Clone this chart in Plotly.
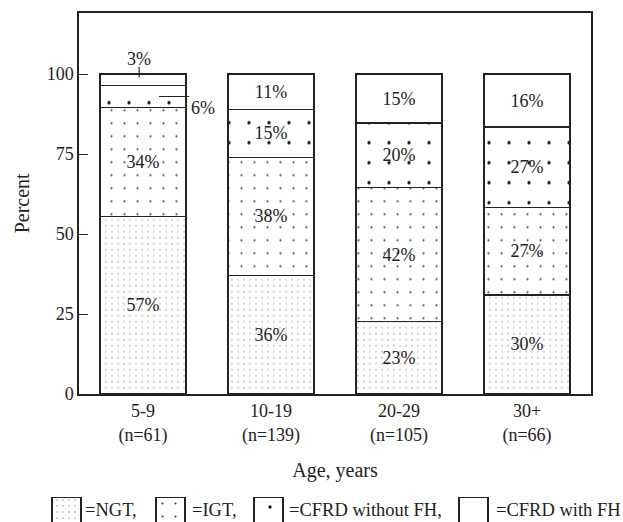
import plotly.graph_objects as go

categories = ["5-9", "10-19", "20-29", "30+"]
n_values = [61, 139, 105, 66]

ngt = [55.5, 37.0, 22.7, 31.0]
igt = [34.0, 37.0, 41.8, 27.3]
cfrd_no_fh = [7.0, 15.0, 20.2, 25.2]
cfrd_fh = [3.5, 11.0, 15.3, 16.5]

ngt_lbl = ["57%", "36%", "23%", "30%"]
igt_lbl = ["34%", "38%", "42%", "27%"]
cfrd_no_fh_lbl = ["6%", "15%", "20%", "27%"]
cfrd_fh_lbl = ["3%", "11%", "15%", "16%"]

legend_names = ["=NGT,", "=IGT,", "=CFRD without FH,", "=CFRD with FH"]

FONT = "Liberation Serif"
LINE = "#222222"
W, H = 623, 522

patterns = [
    dict(shape=".", size=6, solidity=0.04, fgcolor="#8a8a8a", bgcolor="white", fillmode="replace"),
    dict(shape=".", size=13, solidity=0.022, fgcolor="#444444", bgcolor="white", fillmode="replace"),
    dict(shape=".", size=20, solidity=0.022, fgcolor="#111111", bgcolor="white", fillmode="replace"),
    dict(shape="", bgcolor="white", fillmode="replace"),
]

series = [ngt, igt, cfrd_no_fh, cfrd_fh]
labels = [ngt_lbl, igt_lbl, [""] + cfrd_no_fh_lbl[1:], [""] + cfrd_fh_lbl[1:]]

fig = go.Figure()
for vals, lbl, pat, name in zip(series, labels, patterns, legend_names):
    fig.add_trace(go.Bar(
        x=categories, y=vals, name=name, width=0.67,
        marker=dict(color="white", pattern=pat, line=dict(color=LINE, width=1.5)),
        text=lbl, textposition="inside", insidetextanchor="middle", textangle=0,
        constraintext="none",
        textfont=dict(family=FONT, size=18, color="#222"),
        showlegend=False, hoverinfo="skip",
    ))

# legend key boxes in a small helper subplot at the bottom
key_x = [66.5, 170.5, 268.5, 473.5]
text_x = [83, 190, 287, 494]
for i, pat in enumerate(patterns):
    fig.add_trace(go.Bar(
        x=[key_x[i]], y=[1.1], base=[-0.1], width=29, xaxis="x3", yaxis="y3",
        marker=dict(color="white", pattern=pat, line=dict(color=LINE, width=1.3)),
        showlegend=False, hoverinfo="skip",
    ))

annotations = []
for tx, name in zip(text_x, legend_names):
    annotations.append(dict(
        xref="paper", yref="paper", x=tx / W, y=1 - 510 / H, text=name,
        showarrow=False, xanchor="left", yanchor="middle",
        font=dict(family=FONT, size=18.5, color="#222"),
    ))

# call-outs for the small segments of the first bar
y6 = ngt[0] + igt[0] + cfrd_no_fh[0] / 2
top0 = ngt[0] + igt[0] + cfrd_no_fh[0] + cfrd_fh[0]
shapes = [
    dict(type="line", xref="x", yref="y", x0=0.125, x1=0.36, y0=y6, y1=y6,
         line=dict(color=LINE, width=1.2)),
    dict(type="line", xref="x", yref="y", x0=-0.03, x1=-0.03, y0=top0 - 1, y1=top0 + 2.3,
         line=dict(color=LINE, width=1.2)),
]
annotations.append(dict(xref="x", yref="y", x=0.47, y=y6 - 3.6, text=cfrd_no_fh_lbl[0],
                        showarrow=False, font=dict(family=FONT, size=18, color="#222")))
annotations.append(dict(xref="x", yref="y", x=-0.03, y=top0 + 4.8, text=cfrd_fh_lbl[0],
                        showarrow=False, font=dict(family=FONT, size=18, color="#222")))

ticktext = [f"{c}<br>(n={n})" for c, n in zip(categories, n_values)]

fig.update_layout(
    width=W, height=H,
    margin=dict(l=0, r=0, t=0, b=0, autoexpand=False),
    paper_bgcolor="white", plot_bgcolor="white",
    barmode="stack", bargap=0.33,
    font=dict(family=FONT, size=18, color="#222"),
    shapes=shapes, annotations=annotations,
    xaxis=dict(
        domain=[79 / W, 591 / W], type="category", range=[-0.5, 3.5], automargin=False,
        tickmode="array", tickvals=categories, ticktext=ticktext,
        ticks="", showline=True, mirror=True, linecolor=LINE, linewidth=1.5,
        showgrid=False, zeroline=False, anchor="y",
        tickfont=dict(family=FONT, size=18, color="#222"),
        title=dict(text="Age, years", font=dict(family=FONT, size=20, color="#222"), standoff=18),
    ),
    yaxis=dict(
        domain=[(H - 394) / H, (H - 12.7) / H], range=[0, 119.2], automargin=False,
        tickvals=[0, 25, 50, 75, 100], ticks="inside", ticklen=9, tickcolor=LINE, tickwidth=1.3,
        showline=True, mirror=True, linecolor=LINE, linewidth=1.5,
        showgrid=False, zeroline=False, anchor="x",
        tickfont=dict(family=FONT, size=18, color="#222"),
        title=dict(text="Percent", font=dict(family=FONT, size=20, color="#222"), standoff=12),
    ),
    xaxis3=dict(domain=[0, 1], range=[0, W], visible=False, anchor="y3", fixedrange=True,
                automargin=False),
    yaxis3=dict(domain=[0, 25 / H], range=[0, 1], visible=False, anchor="x3", fixedrange=True,
                automargin=False),
)

fig.write_html(
    "out.html",
    config={"displayModeBar": False},
    post_script="document.body.style.margin='0';document.body.style.overflow='hidden';",
)
